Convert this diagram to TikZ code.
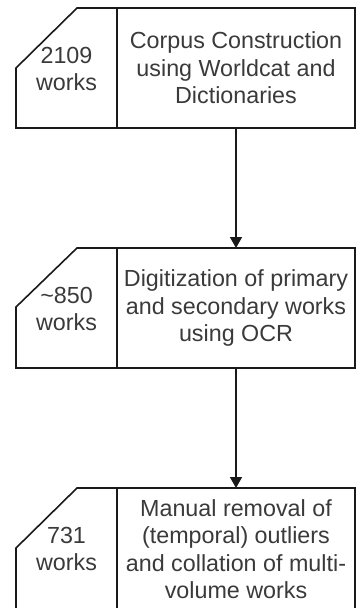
\documentclass[tikz,border=0pt]{standalone}
\usepackage{fontspec}
\setmainfont{Liberation Sans}
\usetikzlibrary{arrows.meta}
\definecolor{txt}{HTML}{3A3A3A}
\definecolor{ln}{HTML}{1A1A1A}
\begin{document}
\begin{tikzpicture}[x=1pt,y=-1pt,
  rbox/.style={draw=ln, line width=1.6pt, minimum width=238pt, minimum height=120pt,
    inner sep=0pt, outer sep=0pt, align=center, text=txt,
    font=\fontsize{23.3}{27.5}\selectfont},
  lbl/.style={inner sep=0pt, align=center, text=txt, font=\fontsize{23.3}{27.5}\selectfont},
  card/.style={draw=ln, line width=1.6pt, line join=miter},
  flow/.style={draw=ln, line width=1.6pt, -{Triangle[width=12pt,length=11pt]}}]
\useasboundingbox (0,0) rectangle (356,608);
\clip (0,0) rectangle (356,608);
% box 1
\draw[card] (16,128) -- (16,68) -- (77,8) -- (117,8) -- (117,128) -- cycle;
\node[rbox] (r1) at (236,68) {Corpus Construction\\using Worldcat and\\Dictionaries};
\node[lbl] (l1) at (66.5,69) {2109\\works};
% box 2
\draw[card] (16,368) -- (16,307) -- (77,248) -- (117,248) -- (117,368) -- cycle;
\node[rbox] (r2) at (236,308) {Digitization of primary\\and secondary works\\using OCR};
\node[lbl] (l2) at (66.5,309) {\textasciitilde850\\works};
% box 3
\draw[card] (16,610) -- (16,548) -- (77,488) -- (117,488) -- (117,610) -- cycle;
\node[rbox, minimum height=122pt] (r3) at (236,549) {Manual removal of\\(temporal) outliers\\and collation of multi-\\volume works};
\node[lbl] (l3) at (66.5,549) {731\\works};
% connectors
\draw[flow] (r1.south) -- (r2.north);
\draw[flow] (r2.south) -- (r3.north);
\end{tikzpicture}
\end{document}
